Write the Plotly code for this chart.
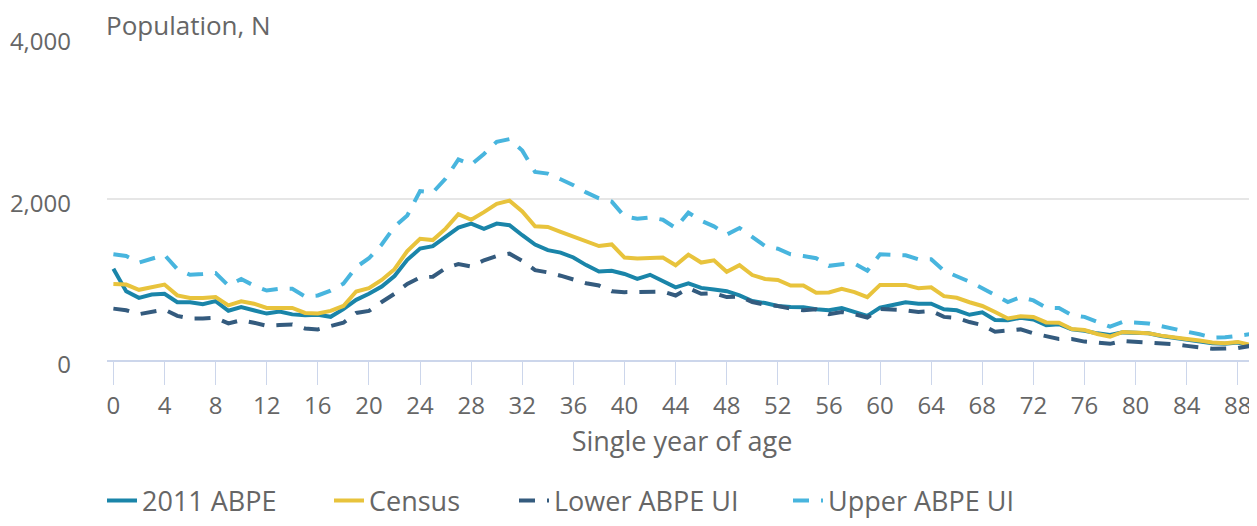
import plotly.graph_objects as go

ages = list(range(0, 90))

abpe_2011 = [1130, 850, 770, 810, 820, 715, 715, 690, 730, 610,
             655, 615, 575, 600, 565, 555, 560, 535, 630, 745,
             820, 910, 1040, 1240, 1380, 1410, 1525, 1640, 1690, 1625,
             1690, 1670, 1545, 1430, 1360, 1330, 1270, 1175, 1095, 1105,
             1065, 1005, 1055, 975, 900, 950, 893, 873, 852, 800,
             730, 705, 670, 656, 652, 628, 616, 644, 595, 546,
             648, 685, 714, 697, 697, 628, 616, 560, 590, 495,
             493, 522, 501, 432, 444, 379, 363, 330, 310, 342,
             338, 330, 298, 277, 257, 236, 208, 200, 216, 175]

census = [940, 934, 869, 901, 934, 800, 767, 767, 779, 677,
          726, 697, 644, 644, 644, 583, 575, 608, 669, 848,
          889, 991, 1125, 1350, 1500, 1485, 1627, 1806, 1737, 1831,
          1933, 1973, 1839, 1655, 1647, 1586, 1529, 1472, 1411, 1431,
          1268, 1256, 1268, 1268, 1174, 1305, 1207, 1235, 1093, 1174,
          1052, 1003, 991, 922, 922, 832, 836, 881, 840, 779,
          930, 930, 930, 889, 901, 791, 771, 715, 669, 595,
          514, 542, 534, 465, 461, 383, 371, 322, 290, 347,
          338, 330, 302, 277, 261, 241, 216, 208, 224, 188]

lower_ui = [636, 616, 567, 595, 624, 546, 514, 514, 522, 453,
            493, 461, 424, 432, 440, 391, 379, 420, 461, 583,
            608, 718, 820, 942, 1023, 1032, 1138, 1187, 1158, 1235,
            1288, 1317, 1227, 1113, 1085, 1044, 991, 950, 922, 852,
            840, 840, 840, 848, 799, 890, 820, 828, 779, 787,
            718, 685, 669, 636, 616, 628, 567, 595, 567, 526,
            632, 624, 616, 595, 608, 534, 522, 470, 432, 351,
            359, 379, 330, 290, 261, 261, 228, 216, 200, 236,
            228, 220, 208, 196, 175, 159, 139, 143, 147, 175]

upper_ui = [1309, 1288, 1207, 1256, 1301, 1125, 1056, 1064, 1076, 921,
            1003, 921, 860, 881, 881, 787, 799, 860, 945, 1150,
            1260, 1430, 1650, 1790, 2092, 2075, 2247, 2483, 2418, 2552,
            2703, 2736, 2593, 2328, 2308, 2238, 2165, 2075, 2002, 1961,
            1778, 1749, 1766, 1737, 1635, 1825, 1725, 1655, 1553, 1635,
            1521, 1411, 1378, 1309, 1288, 1260, 1166, 1187, 1195, 1105,
            1309, 1309, 1297, 1248, 1248, 1105, 1044, 970, 889, 799,
            718, 779, 738, 648, 644, 555, 534, 473, 412, 473,
            461, 453, 420, 391, 351, 318, 277, 281, 302, 320]

font = "Open Sans, sans-serif"
grey = "#666666"

# page body keeps an 8px margin: the figure sits 8px right/down, its last 8px fall off-screen
plot_left, plot_width, plot_height = 99, 1150, 330
legend_px = [94, 321, 506, 780]

fig = go.Figure()
fig.add_trace(go.Scatter(x=ages, y=abpe_2011, name="2011 ABPE", mode="lines",
                         line=dict(color="#1a85a9", width=4), legend="legend"))
fig.add_trace(go.Scatter(x=ages, y=census, name="Census", mode="lines",
                         line=dict(color="#e8c33c", width=4), legend="legend2"))
fig.add_trace(go.Scatter(x=ages, y=lower_ui, name="Lower ABPE UI", mode="lines",
                         line=dict(color="#345b7e", width=4, dash="16px,12px"), legend="legend3"))
fig.add_trace(go.Scatter(x=ages, y=upper_ui, name="Upper ABPE UI", mode="lines",
                         line=dict(color="#48b5de", width=4, dash="16px,12px"), legend="legend4"))

legends = {}
for i, px in enumerate(legend_px):
    key = "legend" if i == 0 else "legend%d" % (i + 1)
    legends[key] = dict(orientation="h", x=(px - plot_left) / plot_width, xanchor="left",
                        y=-144 / plot_height, yanchor="middle", itemwidth=30,
                        font=dict(size=27, color=grey), bgcolor="rgba(0,0,0,0)")

fig.update_layout(
    width=1257, height=526,
    margin=dict(l=plot_left, r=8, t=29, b=167),
    plot_bgcolor="white", paper_bgcolor="white",
    font=dict(family=font, size=24, color=grey),
    showlegend=True,
    annotations=[dict(text="Population, N", xref="paper", yref="paper", x=0, y=1,
                      xanchor="left", yanchor="middle", yshift=12, xshift=-3, showarrow=False,
                      font=dict(size=26, color=grey))],
    **legends,
)
fig.update_xaxes(range=[-0.5, 89.5], tickmode="linear", tick0=0, dtick=4, automargin=False,
                 showgrid=False, zeroline=False, showline=True, linecolor="#ccd6eb", linewidth=2,
                 ticks="outside", ticklen=23, tickcolor="#ccd6eb", tickwidth=1,
                 title=dict(text="Single year of age", standoff=12, font=dict(size=27)))
fig.update_yaxes(range=[0, 4000], tickmode="linear", tick0=0, dtick=2000, tickformat=",",
                 showgrid=True, gridcolor="#e6e6e6", gridwidth=2, zeroline=False, automargin=False,
                 showline=False, ticklabelstandoff=35, ticklabelshift=5)

fig.write_html("out.html")
